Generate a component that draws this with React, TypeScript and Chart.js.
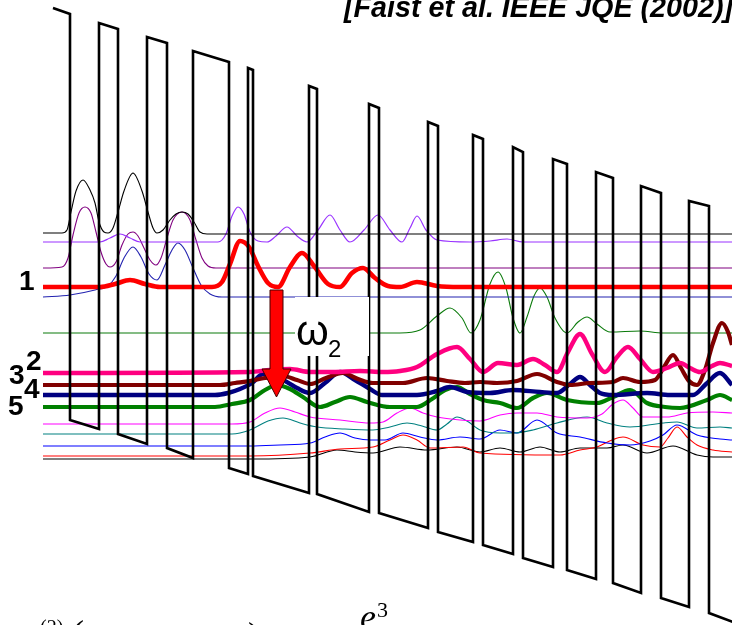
import React, { useEffect, useRef } from 'react';
import { Chart, registerables } from 'chart.js';

Chart.register(...registerables);

type P = [number, number];

// Horizontal position (arb. units) vs. depth of the energy scale (arb. units, increasing downward)
const bandProfile: P[] = [
  [53, 8], [70, 14], [70, 420], [99, 429], [99, 23], [118, 29], [118, 434], [147, 444],
  [147, 37], [167, 43], [167, 448], [193, 458], [193, 51], [229, 62], [229, 468], [248, 474],
  [248, 68], [253, 70], [253, 476], [309, 493], [309, 86], [317, 89], [317, 494], [369, 512],
  [369, 104], [379, 108], [379, 513], [428, 528], [428, 122], [438, 126], [438, 532], [473, 542],
  [473, 135], [483, 139], [483, 545], [513, 554], [513, 147], [523, 152], [523, 558], [553, 567],
  [553, 159], [567, 164], [567, 570], [596, 579], [596, 172], [613, 178], [613, 583], [641, 593],
  [641, 186], [661, 193], [661, 598], [689, 607], [689, 201], [709, 206], [709, 613], [736, 623],
];

const psiTopBlack: P[] = [
  [43, 233], [62, 233], [67, 230], [71, 212], [76, 191], [83, 180], [90, 190], [95, 203], [99, 222],
  [104, 232], [108, 233], [113, 228], [118, 212], [124, 191], [133, 173], [142, 191], [148, 212],
  [153, 228], [157, 233], [163, 230], [170, 220], [176, 214], [182, 212], [188, 214], [194, 222],
  [200, 232], [207, 234], [732, 234],
];

const psiViolet: P[] = [
  [43, 242], [100, 242], [110, 238], [120, 234], [130, 238], [140, 242], [218, 242], [226, 234],
  [232, 216], [238, 207], [244, 214], [250, 232], [258, 241], [267, 242], [276, 236], [287, 227],
  [297, 236], [307, 242], [318, 230], [330, 215], [340, 230], [350, 242], [364, 230], [378, 215],
  [390, 230], [402, 242], [410, 228], [417, 216], [426, 230], [437, 240], [470, 242], [490, 241],
  [507, 239], [523, 242], [732, 242],
];

const psiPurple: P[] = [
  [43, 268], [62, 267], [68, 258], [73, 235], [79, 213], [85, 207], [91, 213], [96, 232], [101, 252],
  [106, 264], [110, 267], [116, 262], [122, 245], [128, 234], [133, 232], [138, 236], [144, 248],
  [150, 260], [156, 265], [161, 258], [167, 238], [173, 220], [182, 212], [190, 220], [196, 240],
  [202, 258], [208, 266], [216, 268], [732, 268],
];

const psiBlueUpper: P[] = [
  [43, 297], [70, 295], [95, 290], [108, 286], [116, 276], [124, 258], [133, 247], [141, 257],
  [149, 274], [157, 280], [165, 265], [172, 250], [178, 243], [185, 250], [193, 268], [201, 285],
  [210, 294], [222, 297], [732, 297],
];

const psi1: P[] = [
  [43, 287], [100, 287], [115, 284], [130, 280], [145, 284], [160, 287], [212, 287], [222, 282],
  [230, 264], [240, 241], [249, 247], [258, 266], [268, 283], [278, 287], [290, 267], [302, 253],
  [314, 266], [328, 284], [340, 287], [352, 273], [363, 268], [375, 278], [388, 286], [400, 287],
  [417, 282], [437, 286], [460, 287], [732, 287],
];

const psiGreenThin: P[] = [
  [43, 333], [400, 333], [420, 330], [437, 316], [450, 308], [462, 318], [471, 333], [480, 320],
  [490, 284], [498, 272], [506, 288], [513, 318], [520, 333], [527, 317], [534, 296], [540, 288],
  [547, 297], [555, 318], [567, 333], [578, 322], [587, 317], [597, 324], [610, 332], [640, 331],
  [663, 333], [732, 333],
];

const psi2: P[] = [
  [43, 373], [250, 372], [270, 370], [290, 369], [310, 372], [333, 372], [360, 371], [383, 372],
  [400, 371], [417, 367], [437, 354], [457, 347], [470, 359], [483, 372], [498, 363], [517, 365],
  [533, 359], [545, 365], [557, 372], [568, 352], [580, 334], [592, 354], [605, 372], [617, 357],
  [628, 347], [640, 359], [653, 372], [667, 368], [680, 363], [690, 368], [700, 372], [712, 366],
  [720, 363], [732, 366],
];

const psi3: P[] = [
  [43, 385], [220, 385], [235, 383], [250, 381], [265, 378], [283, 376], [297, 380], [310, 384],
  [326, 378], [343, 373], [358, 379], [373, 383], [403, 383], [427, 378], [447, 381], [465, 383],
  [480, 382], [497, 383], [517, 381], [537, 374], [557, 382], [570, 385], [590, 383], [613, 382],
  [623, 378], [640, 382], [655, 380], [664, 367], [673, 355], [681, 368], [689, 381], [697, 385],
  [705, 370], [713, 343], [722, 323], [728, 332], [732, 345],
];

const psi4: P[] = [
  [43, 395], [215, 395], [228, 393], [240, 389], [252, 383], [263, 374], [273, 376], [285, 381],
  [297, 388], [310, 393], [325, 383], [340, 372], [355, 380], [370, 389], [382, 395], [417, 395],
  [437, 391], [450, 387], [467, 392], [490, 393], [513, 390], [540, 392], [557, 393], [570, 384],
  [580, 377], [590, 385], [600, 393], [613, 395], [647, 393], [670, 395], [693, 395], [706, 384],
  [720, 373], [732, 385],
];

const psi5: P[] = [
  [43, 407], [215, 407], [232, 404], [250, 400], [265, 390], [277, 385], [290, 389], [303, 397],
  [320, 407], [335, 402], [350, 397], [367, 402], [390, 407], [417, 407], [432, 399], [445, 390],
  [457, 387], [470, 394], [483, 400], [500, 403], [517, 408], [533, 398], [547, 393], [567, 400],
  [597, 403], [613, 397], [630, 390], [647, 403], [665, 407], [680, 408], [707, 400], [720, 395],
  [732, 400],
];

const psiMagenta: P[] = [
  [43, 424], [232, 424], [250, 422], [265, 413], [280, 408], [295, 412], [310, 417], [340, 420],
  [370, 423], [383, 422], [397, 413], [410, 408], [423, 413], [437, 417], [460, 420], [480, 421],
  [500, 415], [517, 413], [537, 413], [557, 417], [587, 418], [602, 414], [613, 404], [623, 400],
  [633, 408], [643, 417], [667, 417], [687, 413], [713, 412], [732, 413],
];

const psiTeal: P[] = [
  [43, 434], [232, 434], [250, 430], [268, 421], [283, 418], [300, 423], [317, 427], [345, 429],
  [373, 430], [390, 427], [407, 423], [422, 426], [437, 430], [447, 424], [457, 417], [467, 421],
  [480, 430], [500, 433], [513, 433], [533, 430], [557, 423], [587, 417], [607, 423], [630, 427],
  [663, 423], [677, 422], [697, 428], [720, 427], [732, 428],
];

const psiBlue: P[] = [
  [43, 446], [250, 446], [280, 445], [310, 443], [325, 437], [340, 433], [355, 438], [370, 440],
  [385, 440], [403, 433], [420, 437], [437, 440], [460, 437], [480, 439], [500, 430], [517, 433],
  [537, 420], [557, 433], [580, 437], [607, 443], [630, 445], [650, 441], [663, 435], [677, 425],
  [697, 435], [720, 439], [732, 440],
];

const psiRed: P[] = [
  [43, 456], [250, 456], [310, 453], [340, 449], [373, 447], [390, 440], [403, 435], [417, 440],
  [430, 448], [463, 447], [480, 453], [560, 455], [580, 450], [597, 447], [612, 440], [623, 437],
  [643, 445], [660, 447], [668, 438], [677, 427], [687, 437], [697, 445], [713, 450], [732, 452],
];

const psiBlack: P[] = [
  [43, 459], [250, 459], [310, 457], [337, 450], [355, 452], [373, 453], [400, 447], [427, 450],
  [457, 447], [480, 452], [500, 448], [520, 452], [540, 447], [560, 452], [580, 448], [607, 448],
  [623, 445], [647, 453], [673, 446], [697, 455], [713, 457], [732, 457],
];

const levelLabels = ['1', '2', '3', '4', '5'];
const titleText = '[Faist et al. IEEE JQE (2002)]';

// ---- styling / placement (not data) ----
const SANS = '"Liberation Sans", Arial, Helvetica, sans-serif';
const SERIF = '"Liberation Serif", "Times New Roman", serif';

const seriesStyle = [
  { data: bandProfile, color: '#000000', width: 2.6, curve: false },
  { data: psi1, color: '#ff0000', width: 4.6, curve: true },
  { data: psi2, color: '#ff0080', width: 4.4, curve: true },
  { data: psi3, color: '#800000', width: 4.2, curve: true },
  { data: psi4, color: '#000080', width: 4.4, curve: true },
  { data: psi5, color: '#008000', width: 4.2, curve: true },
  { data: psiTopBlack, color: '#000000', width: 1.1, curve: true },
  { data: psiViolet, color: '#9933ff', width: 1.2, curve: true },
  { data: psiPurple, color: '#800080', width: 1.1, curve: true },
  { data: psiBlueUpper, color: '#2222b0', width: 1.1, curve: true },
  { data: psiGreenThin, color: '#0a7a0a', width: 1.1, curve: true },
  { data: psiMagenta, color: '#ff00ff', width: 1.1, curve: true },
  { data: psiTeal, color: '#008080', width: 1.1, curve: true },
  { data: psiBlue, color: '#0000ff', width: 1.1, curve: true },
  { data: psiRed, color: '#ff0000', width: 1.1, curve: true },
  { data: psiBlack, color: '#000000', width: 1.1, curve: true },
];

const labelPos = [
  { x: 19, y: 290 },
  { x: 26, y: 370 },
  { x: 9, y: 384 },
  { x: 24, y: 398 },
  { x: 8, y: 415 },
];

const omegaBox = { x0: 295, y0: 297, x1: 369, y1: 356 };
const arrowSpec = { x: 276.5, top: 290, head: 369, tip: 397, shaft: 6.5, headHalf: 14.5 };

const overlayPlugin = {
  id: 'qclOverlay',
  afterDatasetsDraw(chart: any) {
    const ctx: CanvasRenderingContext2D = chart.ctx;
    const X = (v: number) => chart.scales.x.getPixelForValue(v);
    const Y = (v: number) => chart.scales.y.getPixelForValue(v);
    ctx.save();

    // white box behind omega label
    ctx.fillStyle = '#ffffff';
    ctx.fillRect(X(omegaBox.x0), Y(omegaBox.y0), X(omegaBox.x1) - X(omegaBox.x0), Y(omegaBox.y1) - Y(omegaBox.y0));

    ctx.fillStyle = '#000000';
    ctx.textBaseline = 'alphabetic';
    ctx.textAlign = 'left';
    ctx.font = `42px ${SANS}`;
    ctx.fillText('ω', X(296), Y(345));
    ctx.font = `24px ${SANS}`;
    ctx.fillText('2', X(328), Y(357));

    // arrow
    const a = arrowSpec;
    ctx.beginPath();
    ctx.moveTo(X(a.x - a.shaft), Y(a.top));
    ctx.lineTo(X(a.x + a.shaft), Y(a.top));
    ctx.lineTo(X(a.x + a.shaft), Y(a.head));
    ctx.lineTo(X(a.x + a.headHalf), Y(a.head));
    ctx.lineTo(X(a.x), Y(a.tip));
    ctx.lineTo(X(a.x - a.headHalf), Y(a.head));
    ctx.lineTo(X(a.x - a.shaft), Y(a.head));
    ctx.closePath();
    ctx.fillStyle = '#ff0000';
    ctx.fill();
    ctx.lineWidth = 1;
    ctx.strokeStyle = '#400000';
    ctx.stroke();

    // level labels
    ctx.fillStyle = '#000000';
    ctx.font = `bold 28px ${SANS}`;
    levelLabels.forEach((t, i) => {
      ctx.fillText(t, X(labelPos[i].x), Y(labelPos[i].y));
    });

    // reference title
    ctx.font = `italic bold 28.7px ${SANS}`;
    ctx.fillText(titleText, X(344), Y(17));

    // equation fragments cut by the bottom edge
    ctx.font = `20px ${SERIF}`;
    ctx.fillText('(2)', X(40), Y(634));
    ctx.font = `36px ${SERIF}`;
    ctx.fillText('(', X(72), Y(645));
    ctx.fillText(')', X(248), Y(647));
    ctx.font = `italic 36px ${SERIF}`;
    ctx.fillText('e', X(360), Y(629));
    ctx.font = `22px ${SERIF}`;
    ctx.fillText('3', X(377), Y(617));

    ctx.restore();
  },
};

export default function App() {
  const canvasRef = useRef<HTMLCanvasElement | null>(null);

  useEffect(() => {
    const canvas = canvasRef.current;
    if (!canvas) return;
    const datasets = seriesStyle.map((s, i) => ({
      data: s.data.map(([x, y]) => ({ x, y })),
      borderColor: s.color,
      backgroundColor: s.color,
      borderWidth: s.width,
      pointRadius: 0,
      fill: false,
      tension: s.curve ? 0.4 : 0,
      cubicInterpolationMode: s.curve ? ('monotone' as const) : ('default' as const),
      borderJoinStyle: s.curve ? ('round' as const) : ('miter' as const),
      borderCapStyle: 'butt' as const,
      order: i,
      clip: false as any,
    }));

    const chart = new Chart(canvas, {
      type: 'line',
      data: { datasets },
      options: {
        animation: false,
        responsive: false,
        devicePixelRatio: 1,
        layout: { padding: 0 },
        events: [],
        plugins: { legend: { display: false }, tooltip: { enabled: false }, title: { display: false } },
        scales: {
          x: { type: 'linear', min: 0, max: 732, display: false },
          y: { type: 'linear', min: 0, max: 625, reverse: true, display: false },
        },
      },
      plugins: [overlayPlugin],
    });
    return () => chart.destroy();
  }, []);

  return (
    <div style={{ position: 'fixed', left: 0, top: 0, width: 732, height: 625, background: '#ffffff' }}>
      <canvas ref={canvasRef} width={732} height={625} style={{ display: 'block', width: 732, height: 625 }} />
    </div>
  );
}
